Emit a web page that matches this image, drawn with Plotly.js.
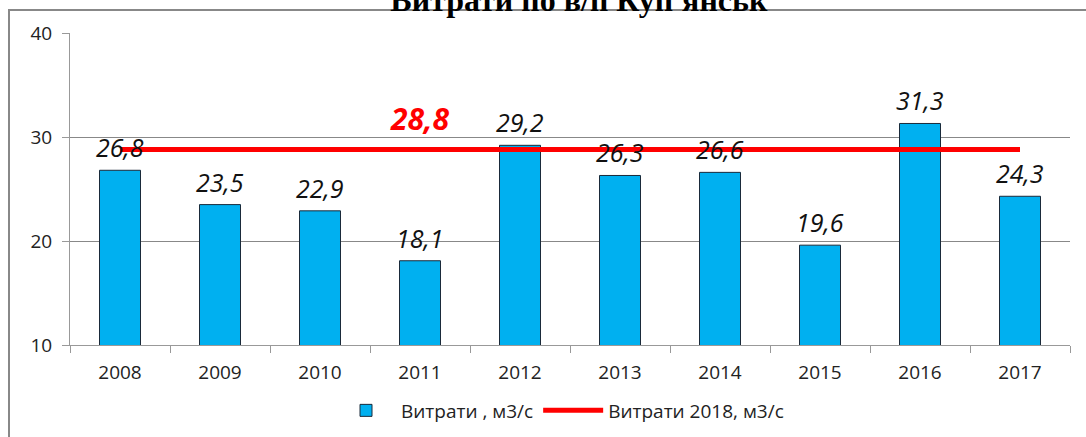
<!DOCTYPE html>
<html><head><meta charset="utf-8">
<script src="https://cdn.plot.ly/plotly-3.0.1.min.js"></script>
<style>html,body{margin:0;padding:0;background:#fff;}#chart{width:1086px;height:437px;}</style>
</head><body><div id="chart"></div>
<script>
const years = ['2008','2009','2010','2011','2012','2013','2014','2015','2016','2017'];
const flows = [26.8, 23.5, 22.9, 18.1, 29.2, 26.3, 26.6, 19.6, 31.3, 24.3];
const flow2018 = 28.8;
const seriesNames = ['Витрати , м3/с', 'Витрати 2018, м3/с'];
const chartTitle = "Витрати по в/п Куп'янськ";

const fmt = v => v.toFixed(1).replace('.', ',');

const bars = {
  type: 'bar', x: years, y: flows, name: seriesNames[0],
  marker: {color: '#00B0F0', line: {color: '#1a2a3a', width: 1}},
  width: 0.41, hoverinfo: 'x+y'
};
const line = {
  type: 'scatter', mode: 'lines', x: years, y: years.map(() => flow2018),
  name: seriesNames[1], line: {color: '#FF0000', width: 5}
};

const annotations = years.map((yr, i) => ({
  x: i, y: flows[i], xref: 'x', yref: 'y', text: fmt(flows[i]),
  showarrow: false, yanchor: 'bottom', yshift: 4,
  font: {family: 'Open Sans, sans-serif', size: 25, color: '#111', style: 'italic'}
}));
annotations.push({
  x: years.indexOf('2011'), y: flow2018, xref: 'x', yref: 'y', text: '<b><i>' + fmt(flow2018) + '</i></b>',
  showarrow: false, yanchor: 'bottom', yshift: 8,
  font: {family: 'Open Sans, sans-serif', size: 30, color: '#FF0000'}
});

const layout = {
  width: 1086, height: 437,
  margin: {l: 70, r: 16, t: 33, b: 92, autoexpand: false},
  paper_bgcolor: '#fff', plot_bgcolor: '#fff',
  title: {text: '<b>' + chartTitle + '</b>', x: 0.533, xanchor: 'center', y: 1, yref: 'container', yanchor: 'middle',
    font: {family: 'Liberation Serif, serif', size: 32, color: '#000'}},
  showlegend: true,
  legend: {orientation: 'h', x: 0.49, xanchor: 'center', y: -0.21, yanchor: 'middle',
    font: {family: 'Open Sans, sans-serif', size: 19, color: '#222'}, itemwidth: 60, traceorder: 'normal'},
  xaxis: {type: 'category', range: [-0.5, 9.5], autorange: false, tickson: 'boundaries', ticks: 'outside', ticklen: 7, tickcolor: '#999',
    showline: true, linecolor: '#999', linewidth: 1, showgrid: false, tickangle: 0, ticklabelstandoff: 10, automargin: false,
    tickfont: {family: 'Open Sans, sans-serif', size: 19, color: '#222'}},
  yaxis: {range: [10, 40], autorange: false, dtick: 10, ticks: 'outside', ticklen: 7, tickcolor: '#999', automargin: false,
    showline: true, linecolor: '#999', linewidth: 1, gridcolor: '#888', gridwidth: 1, ticklabelstandoff: 6,
    zeroline: false, tickfont: {family: 'Open Sans, sans-serif', size: 19, color: '#222'}},
  bargap: 0.59,
  annotations: annotations,
  shapes: [{type: 'rect', xref: 'paper', yref: 'paper', x0: -0.061, x1: 1.2, y0: -0.5, y1: 1.0737,
    line: {color: '#888', width: 2}, fillcolor: 'rgba(0,0,0,0)', layer: 'below'}]
};

Plotly.newPlot('chart', [bars, line], layout, {displayModeBar: false, staticPlot: true});
</script></body></html>
